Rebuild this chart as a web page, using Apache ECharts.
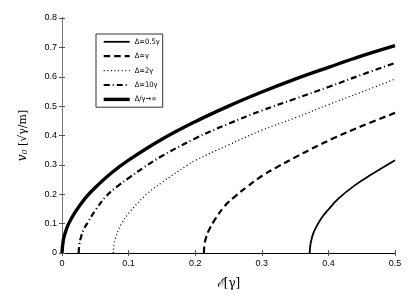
<!DOCTYPE html>
<html>
<head>
<meta charset="utf-8">
<script src="https://cdn.jsdelivr.net/npm/echarts@6/dist/echarts.min.js"></script>
<style>html,body{margin:0;padding:0;background:#fff}#c{width:415px;height:296px}</style>
</head>
<body>
<div id="c"></div>
<script>
const seriesNames = ['Δ=0.5γ', 'Δ=γ', 'Δ=2γ', 'Δ=10γ', 'Δ/γ→∞'];
const xTicks = [0, 0.1, 0.2, 0.3, 0.4, 0.5];
const yTicks = [0, 0.1, 0.2, 0.3, 0.4, 0.5, 0.6, 0.7, 0.8];

const delta05 = [[0.372,0],[0.3725,0.02],[0.374,0.04],[0.377,0.065],[0.382,0.09],[0.39,0.12],[0.4,0.148],[0.415,0.185],[0.44,0.231],[0.465,0.268],[0.5,0.316]];
const delta1 = [[0.213,0],[0.214,0.03],[0.216,0.05],[0.22,0.075],[0.23,0.115],[0.245,0.162],[0.26,0.193],[0.277,0.224],[0.3,0.262],[0.325,0.295],[0.352,0.328],[0.375,0.355],[0.41,0.393],[0.45,0.432],[0.5,0.477]];
const delta2 = [[0.077,0],[0.078,0.028],[0.08,0.048],[0.085,0.08],[0.0886,0.097],[0.1,0.135],[0.127,0.2],[0.15,0.24],[0.187,0.297],[0.2,0.315],[0.25,0.368],[0.3,0.418],[0.35,0.46],[0.4,0.505],[0.45,0.548],[0.5,0.592]];
const delta10 = [[0.025,0],[0.026,0.03],[0.028,0.05],[0.032,0.078],[0.039,0.105],[0.05,0.145],[0.067,0.195],[0.085,0.23],[0.1,0.255],[0.122,0.29],[0.15,0.33],[0.2,0.39],[0.25,0.44],[0.3,0.485],[0.35,0.525],[0.4,0.565],[0.45,0.607],[0.5,0.647]];
const deltaInf = [[0,0],[0.002,0.045],[0.005,0.07],[0.01,0.1],[0.02,0.14],[0.035,0.187],[0.05,0.223],[0.075,0.274],[0.1,0.316],[0.15,0.387],[0.2,0.447],[0.25,0.5],[0.3,0.548],[0.35,0.592],[0.4,0.632],[0.45,0.671],[0.5,0.706]];

const styles = [
  {width: 1.8, type: 'solid'},
  {width: 2.2, type: [6.5, 4]},
  {width: 1.3, type: [1, 2.6]},
  {width: 2.2, type: [6, 3, 1, 3]},
  {width: 3.4, type: 'solid'}
];

const chart = echarts.init(document.getElementById('c'), null, {renderer: 'canvas'});
const lbl = {fontFamily: "'Liberation Sans', Arial, sans-serif", fontSize: 9, color: '#000'};
function mkLine(name, data, st) {
  return {
    name, type: 'line', data, showSymbol: false, symbol: 'none',
    smooth: 0.4, clip: true, animation: false,
    lineStyle: {color: '#000', width: st.width, type: st.type, cap: 'butt', join: 'round'},
    itemStyle: {color: '#000'}
  };
}
const datasets = [delta05, delta1, delta2, delta10, deltaInf];
chart.setOption({
  animation: false,
  backgroundColor: '#fff',
  grid: {left: 62, right: 20, top: 18, bottom: 43, outerBoundsMode: 'none'},
  legend: {
    orient: 'vertical', left: 96, top: 34,
    padding: [3, 3, 3, 6], itemWidth: 26, itemHeight: 12, itemGap: 4.8,
    borderColor: '#333', borderWidth: 1, backgroundColor: '#fff',
    data: seriesNames.map((n, i) => ({name: n, lineStyle: {width: styles[i].width, type: styles[i].type, color: '#000'}})),
    itemStyle: {opacity: 0, borderWidth: 0},
    textStyle: {fontFamily: "'Liberation Sans Narrow', 'DejaVu Sans Condensed', Arial, sans-serif", fontSize: 7.5, color: '#000'}
  },
  xAxis: [{
    type: 'value', min: xTicks[0], max: xTicks[xTicks.length - 1], interval: 0.1,
    position: 'bottom',
    axisLine: {show: true, lineStyle: {color: '#777', width: 1}},
    axisTick: {show: true, inside: true, length: 3, lineStyle: {color: '#555'}},
    axisLabel: Object.assign({margin: 6}, lbl),
    splitLine: {show: false},
    name: '{i|ℰ}{r|[γ]}', nameLocation: 'middle', nameGap: 25,
    nameTextStyle: {rich: {
      i: {fontFamily: "'DejaVu Serif', serif", fontStyle: 'italic', fontSize: 12, color: '#000'},
      r: {fontFamily: "'DejaVu Serif', serif", fontSize: 12, color: '#000'}
    }}
  }, {
    type: 'value', min: 0, max: 0.5, interval: 0.1, position: 'top',
    axisLine: {show: true, lineStyle: {color: '#000', width: 1}},
    axisTick: {show: true, inside: true, length: 3, lineStyle: {color: '#555'}},
    axisLabel: {show: false}, splitLine: {show: false}
  }],
  yAxis: [{
    type: 'value', min: yTicks[0], max: yTicks[yTicks.length - 1], interval: 0.1,
    position: 'left',
    axisLine: {show: true, lineStyle: {color: '#000', width: 1}},
    axisTick: {show: true, inside: true, length: 3, lineStyle: {color: '#555'}},
    axisLabel: Object.assign({margin: 5}, lbl),
    splitLine: {show: false},
    name: '{i|v}{s|0} {r|[√γ/m]}', nameLocation: 'middle', nameGap: 33,
    nameTextStyle: {rich: {
      i: {fontFamily: "'DejaVu Serif', serif", fontStyle: 'italic', fontSize: 12, color: '#000'},
      s: {fontFamily: "'DejaVu Serif', serif", fontStyle: 'italic', fontSize: 8, color: '#000', verticalAlign: 'bottom', padding: [4, 0, 0, 0]},
      r: {fontFamily: "'DejaVu Serif', serif", fontSize: 11, color: '#000'}
    }}
  }, {
    type: 'value', min: 0, max: 0.8, interval: 0.1, position: 'right',
    axisLine: {show: true, lineStyle: {color: '#777', width: 1}},
    axisTick: {show: true, inside: true, length: 3, lineStyle: {color: '#555'}},
    axisLabel: {show: false}, splitLine: {show: false}
  }],
  series: seriesNames.map((n, i) => mkLine(n, datasets[i], styles[i]))
});
</script>
</body>
</html>
